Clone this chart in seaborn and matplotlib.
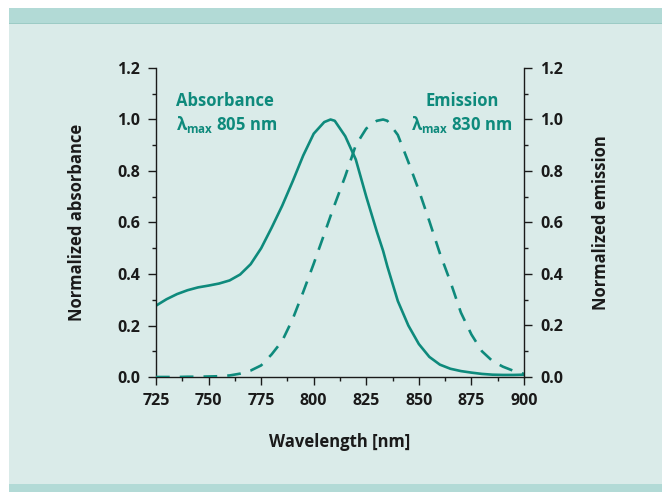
import numpy as np
import pandas as pd
import seaborn as sns
import matplotlib.pyplot as plt
from matplotlib.patches import Rectangle
from matplotlib.ticker import MultipleLocator

# Data
wavelength = [725, 730, 735, 740, 745, 750, 755, 760, 765, 770, 775, 780, 785, 790,
              795, 800, 805, 808, 810, 815, 820, 825, 830, 833, 835, 840, 845, 850,
              855, 860, 865, 870, 875, 880, 885, 890, 895, 900]
absorbance = [0.277, 0.302, 0.322, 0.337, 0.348, 0.355, 0.363, 0.375, 0.398, 0.438,
              0.500, 0.580, 0.665, 0.760, 0.860, 0.945, 0.990, 1.000, 0.995, 0.935,
              0.845, 0.700, 0.565, 0.490, 0.430, 0.295, 0.200, 0.128, 0.078, 0.048,
              0.032, 0.023, 0.017, 0.012, 0.009, 0.008, 0.008, 0.009]
emission = [0.000, 0.000, 0.000, 0.001, 0.001, 0.002, 0.003, 0.006, 0.013, 0.025,
            0.045, 0.088, 0.140, 0.225, 0.330, 0.440, 0.555, 0.625, 0.670, 0.780,
            0.900, 0.965, 0.995, 1.000, 0.995, 0.940, 0.835, 0.725, 0.605, 0.480,
            0.370, 0.250, 0.165, 0.100, 0.062, 0.040, 0.024, 0.012]

df = pd.DataFrame({"wavelength": wavelength, "absorbance": absorbance, "emission": emission})

teal = "#0e8a7c"
panel = "#daebe9"
band = "#b2dad6"
ink = "#1a1a1a"

sns.set_style("ticks")
plt.rcParams["font.family"] = ["Open Sans", "DejaVu Sans"]
plt.rcParams["font.weight"] = "bold"
plt.rcParams["axes.labelweight"] = "bold"
plt.rcParams["mathtext.default"] = "regular"

fig = plt.figure(figsize=(6.62, 4.92), dpi=100, facecolor="white")
W, H = 662, 492
fig.patches.append(Rectangle((9 / W, 0), 1, 1 - 8 / H, transform=fig.transFigure,
                             facecolor=panel, edgecolor="none", zorder=-10))
fig.patches.append(Rectangle((9 / W, 1 - 23 / H), 1, 15 / H, transform=fig.transFigure,
                             facecolor=band, edgecolor="none", zorder=-9))
fig.patches.append(Rectangle((9 / W, 1 - 24 / H), 1, 1.5 / H, transform=fig.transFigure,
                             facecolor="#9ccbc5", edgecolor="none", zorder=-8))
fig.patches.append(Rectangle((9 / W, 0), 1, 8 / H, transform=fig.transFigure,
                             facecolor=band, edgecolor="none", zorder=-9))

ax = fig.add_axes([156 / W, 1 - 377 / H, (524 - 156) / W, (377 - 68) / H])
ax.set_facecolor("none")
ax2 = ax.twinx()

sns.lineplot(data=df, x="wavelength", y="absorbance", ax=ax, color=teal, linewidth=1.9)
sns.lineplot(data=df, x="wavelength", y="emission", ax=ax2, color=teal, linewidth=1.9)
ax2.lines[0].set_dashes([5.2, 3.8])

for a in (ax, ax2):
    a.set_xlim(725, 900)
    a.set_ylim(0, 1.2)
    a.yaxis.set_major_locator(MultipleLocator(0.2))
    a.yaxis.set_minor_locator(MultipleLocator(0.1))
    a.yaxis.set_major_formatter(plt.FormatStrFormatter("%.1f"))
    a.spines["top"].set_visible(False)
    for s in a.spines.values():
        s.set_color(ink)
        s.set_linewidth(1.0)
    a.tick_params(which="major", length=5.5, width=1.0, color=ink,
                  labelsize=11.5, pad=6, labelcolor=ink)
    a.tick_params(which="minor", length=3, width=1.0, color=ink)

ax.xaxis.set_major_locator(MultipleLocator(25))
ax.xaxis.set_minor_locator(MultipleLocator(12.5))
ax.spines["right"].set_visible(False)
ax2.spines["left"].set_visible(False)
ax2.spines["bottom"].set_visible(False)

ax.set_xlabel("Wavelength [nm]", fontsize=12, labelpad=17, color=ink)
ax.set_ylabel("Normalized absorbance", fontsize=12, labelpad=22, color=ink)
ax2.set_ylabel("Normalized emission", fontsize=12, labelpad=21, color=ink)

ax.text(734.5, 1.07, "Absorbance", color=teal, fontsize=12, fontweight="bold",
        ha="left", va="center")
ax.text(734.5, 0.98, "λ$_{max}$ 805 nm", color=teal, fontsize=12, fontweight="bold",
        ha="left", va="center")
ax.text(870.4, 1.07, "Emission", color=teal, fontsize=12, fontweight="bold",
        ha="center", va="center")
ax.text(870.4, 0.98, "λ$_{max}$ 830 nm", color=teal, fontsize=12, fontweight="bold",
        ha="center", va="center")

fig.savefig("out.png", dpi=100, facecolor="white")
